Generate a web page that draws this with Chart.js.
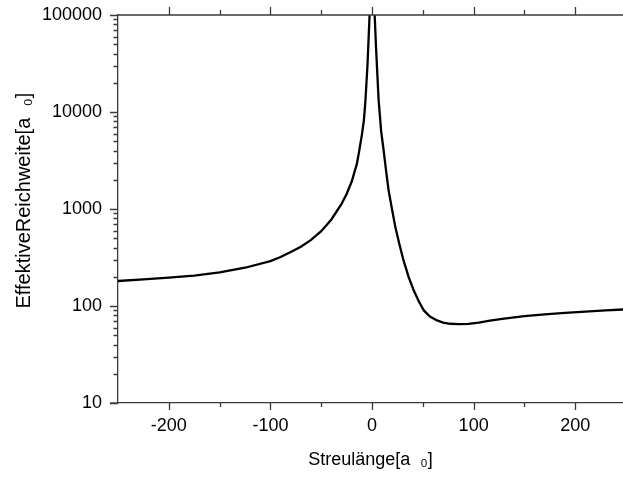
<!DOCTYPE html>
<html>
<head>
<meta charset="utf-8">
<script src="https://cdn.jsdelivr.net/npm/chart.js@4/dist/chart.umd.min.js"></script>
<style>
html,body{margin:0;padding:0;background:#fff;}
canvas{display:block;}
</style>
</head>
<body>
<canvas id="c" width="623" height="477"></canvas>
<script>
// Scattering length [a0]
const scatLen = [-250,-225,-200,-175,-150,-125,-100,-90,-80,-70,-60,-50,-40,-30,-25,-20,-15,-13,-10,-8,-6.5,-4.5,-2.4,-1,
  1,2.6,4,6.5,9,11.4,14,16.3,20,23,27,31,36,41,46,51,57,64,70,77,85,95,105,116,130,150,170,190,210,230,247];
// Effective range [a0]
const effRange = [181,188,196,206,222,248,290,320,360,408,480,590,780,1130,1430,1920,2900,3750,5800,8200,13000,30000,100000,1000000,
  1000000,100000,45000,13250,6300,4040,2400,1560,950,650,430,295,200,145,112,90,78,71,67.5,65.6,65,65.5,67.5,70.5,74,78.5,82,85,87.5,90,92];
const xTickLabels = [-200,-100,0,100,200];
const yTickLabels = [10,100,1000,10000,100000];

const points = scatLen.map((x,i)=>({x:x, y:effRange[i]}));
const AXIS = '#3a3a3a';
const FONT = "'Liberation Sans', Arial, sans-serif";

const tickPlugin = {
  id:'tickMarks',
  afterDraw(chart){
    const ctx = chart.ctx, xs = chart.scales.x, ys = chart.scales.y, a = chart.chartArea;
    ctx.save();
    ctx.strokeStyle = AXIS; ctx.lineWidth = 1.3;
    ctx.beginPath();
    // top frame line
    ctx.moveTo(a.left, a.top); ctx.lineTo(a.right, a.top);
    for (let k=1;k<=5;k++){
      for (let m=1;m<=9;m++){
        const val = m*Math.pow(10,k);
        if (val>100000) continue;
        const py = Math.round(ys.getPixelForValue(val))+0.5;
        const len = m===1?8:4.5;
        ctx.moveTo(a.left-len, py); ctx.lineTo(a.left, py);
      }
    }
    const p10 = Math.round(ys.getPixelForValue(10));
    ctx.moveTo(a.left-8, p10); ctx.lineTo(a.left, p10);
    for (let v=-200; v<=200; v+=50){
      const px = Math.round(xs.getPixelForValue(v))+0.5;
      const len = v%100===0?7:4;
      ctx.moveTo(px, a.bottom); ctx.lineTo(px, a.bottom+len);
      ctx.moveTo(px, a.top); ctx.lineTo(px, a.top-len-1);
    }
    ctx.stroke();
    ctx.restore();
  }
};

new Chart(document.getElementById('c'), {
  type:'line',
  data:{datasets:[{
    data:points,
    borderColor:'#000',
    borderWidth:2.3,
    pointRadius:0,
    tension:0,
    fill:false,
    clip:0
  }]},
  options:{
    responsive:false,
    animation:false,
    events:[],
    layout:{padding:{top:15,right:0,bottom:0,left:0}},
    plugins:{legend:{display:false},tooltip:{enabled:false}},
    scales:{
      x:{
        type:'linear', position:'bottom', min:-250, max:247,
        afterBuildTicks(s){ s.ticks = xTickLabels.map(v=>({value:v})); },
        afterFit(s){ s.height = 74; s.paddingLeft = 0; s.paddingRight = 0; },
        grid:{display:false, drawTicks:false},
        border:{display:true, color:AXIS, width:1.3},
        ticks:{padding:12, color:'#000', font:{family:FONT, size:18}, callback:v=>String(v), maxRotation:0, autoSkip:false},
        title:{display:true, text:'Streulänge[a  ₀]', color:'#000', font:{family:FONT, size:18}, padding:{top:0,bottom:6}}
      },
      y:{
        type:'logarithmic', position:'left', min:10, max:100000,
        afterBuildTicks(s){ s.ticks = yTickLabels.map(v=>({value:v})); },
        afterFit(s){ s.width = 118; s.paddingTop = 0; s.paddingBottom = 0; },
        grid:{display:false, drawTicks:false},
        border:{display:true, color:AXIS, width:1.3},
        ticks:{padding:16, color:'#000', font:{family:FONT, size:18}, callback:v=>String(v), autoSkip:false},
        title:{display:true, text:'   EffektiveReichweite[a  ₀]', color:'#000', font:{family:FONT, size:20}, padding:{top:12,bottom:0}}
      }
    }
  },
  plugins:[tickPlugin]
});
</script>
</body>
</html>
